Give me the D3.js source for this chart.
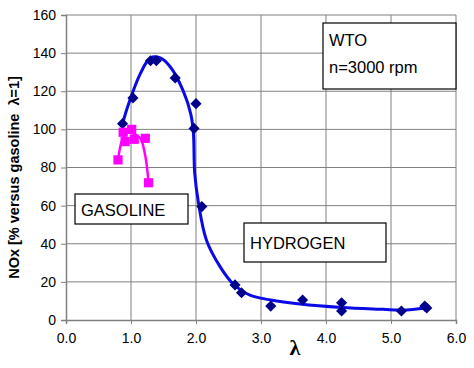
<!DOCTYPE html>
<html><head><meta charset="utf-8">
<script src="https://cdn.jsdelivr.net/npm/d3@7"></script>
<style>body{margin:0;background:#fff}svg{display:block}</style>
</head><body>
<script>
const xTicks = [0, 1, 2, 3, 4, 5, 6];
const yTicks = [0, 20, 40, 60, 80, 100, 120, 140, 160];
// Hydrogen measured points
const h2Lambda = [0.87, 1.03, 1.30, 1.39, 1.68, 2.00, 1.97, 2.09, 2.60, 2.70, 3.15, 3.64, 4.24, 4.24, 5.16, 5.52, 5.55];
const h2NOx    = [103, 116.5, 136, 136, 127, 113.5, 100.5, 59.5, 18.4, 14.3, 7.3, 10.5, 9.0, 4.7, 4.7, 7.3, 6.3];
// Hydrogen trend curve
const h2CurveLambda = [0.87, 0.96, 1.14, 1.30, 1.45, 1.60, 1.80, 1.92, 1.96, 1.98, 2.04, 2.16, 2.37, 2.57, 2.83, 3.15, 3.60, 4.24, 4.88, 5.16, 5.60];
const h2CurveNOx    = [103, 113, 129, 137.5, 137.5, 133, 120.5, 108, 98, 77, 61, 42, 28, 19, 13, 10.5, 8.4, 6.6, 5.6, 5.2, 6.6];
// Gasoline measured points
const gasLambda = [0.80, 0.88, 0.91, 1.01, 1.05, 1.22, 1.27];
const gasNOx    = [84, 98.5, 93.6, 100, 94.8, 95.3, 72];
// Gasoline trend curve
const gasCurveLambda = [0.80, 0.87, 0.95, 1.01, 1.14, 1.22, 1.27];
const gasCurveNOx    = [84, 95, 98.5, 98, 95.5, 86, 72];

const W = 474, H = 368;
const m = {left: 66, right: 18, top: 15, bottom: 48};
const svg = d3.select("body").append("svg").attr("width", W).attr("height", H);
const x = d3.scaleLinear().domain([0, 6]).range([m.left, W - m.right]);
const y = d3.scaleLinear().domain([0, 160]).range([H - m.bottom, m.top]);

// grid
svg.append("g").selectAll("line.v").data(xTicks.slice(1)).join("line")
  .attr("x1", d => x(d)).attr("x2", d => x(d)).attr("y1", y(0)).attr("y2", y(160))
  .attr("stroke", "#808080").attr("stroke-width", 1);
svg.append("g").selectAll("line.h").data(yTicks.slice(1)).join("line")
  .attr("x1", x(0)).attr("x2", x(6)).attr("y1", d => y(d)).attr("y2", d => y(d))
  .attr("stroke", "#808080").attr("stroke-width", 1);

// axes
const fontF = "'Liberation Sans', Arial, sans-serif";
const yAxis = svg.append("g").attr("transform", `translate(${x(0)},0)`)
  .call(d3.axisLeft(y).tickValues(yTicks).tickFormat(d3.format("d")).tickSize(5).tickPadding(5));
const xAxis = svg.append("g").attr("transform", `translate(0,${y(0)})`)
  .call(d3.axisBottom(x).tickValues(xTicks).tickFormat(d3.format(".1f")).tickSize(4).tickPadding(9));
[yAxis, xAxis].forEach(a => {
  a.select(".domain").attr("stroke", "#808080").attr("stroke-width", 1.5);
  a.selectAll(".tick line").attr("stroke", "#808080");
  a.selectAll("text").attr("font-family", fontF).attr("font-size", 14).attr("fill", "#000");
});

// text boxes
function box(x0, y0, w, h) {
  svg.append("rect").attr("x", x0).attr("y", y0).attr("width", w).attr("height", h)
    .attr("fill", "#fff").attr("stroke", "#000").attr("stroke-width", 1.2);
}
box(75, 194, 113, 30);
svg.append("text").attr("x", 81).attr("y", 216).text("GASOLINE")
  .attr("font-family", fontF).attr("font-size", 16.5);
box(244, 223, 142, 39);
svg.append("text").attr("x", 250).attr("y", 249).text("HYDROGEN")
  .attr("font-family", fontF).attr("font-size", 16.5);
box(323, 23, 133, 66);
svg.append("text").attr("x", 329).attr("y", 46).text("WTO")
  .attr("font-family", fontF).attr("font-size", 16.5);
svg.append("text").attr("x", 329).attr("y", 73).text("n=3000 rpm")
  .attr("font-family", fontF).attr("font-size", 16.5);

// curves
const line = d3.line().x(d => x(d[0])).y(d => y(d[1])).curve(d3.curveCatmullRom.alpha(0.5));
svg.append("path").datum(h2CurveLambda.map((l, i) => [l, h2CurveNOx[i]]))
  .attr("d", line).attr("fill", "none").attr("stroke", "#0a0ae6").attr("stroke-width", 3);
svg.append("path").datum(gasCurveLambda.map((l, i) => [l, gasCurveNOx[i]]))
  .attr("d", line).attr("fill", "none").attr("stroke", "#ff00ff").attr("stroke-width", 2.5);

// markers
svg.append("g").selectAll("path").data(h2Lambda.map((l, i) => [l, h2NOx[i]])).join("path")
  .attr("d", d3.symbol().type(d3.symbolSquare).size(62))
  .attr("transform", d => `translate(${x(d[0])},${y(d[1])}) rotate(45)`)
  .attr("fill", "#00008b");
svg.append("g").selectAll("path").data(gasLambda.map((l, i) => [l, gasNOx[i]])).join("path")
  .attr("d", d3.symbol().type(d3.symbolSquare).size(85))
  .attr("transform", d => `translate(${x(d[0])},${y(d[1])})`)
  .attr("fill", "#ff00ff");

// axis titles
svg.append("text").attr("transform", `translate(19,${(y(0) + y(160)) / 2 + 10}) rotate(-90)`)
  .attr("text-anchor", "middle").attr("font-family", fontF).attr("font-weight", "bold")
  .attr("font-size", 14.5).text("NOx [% versus gasoline\u00a0 λ=1]");
svg.append("text").attr("x", 295).attr("y", 355).attr("text-anchor", "middle")
  .attr("font-family", "'Liberation Serif', 'DejaVu Serif', serif").attr("font-weight", "bold")
  .attr("font-size", 22).text("λ");
</script>
</body></html>
